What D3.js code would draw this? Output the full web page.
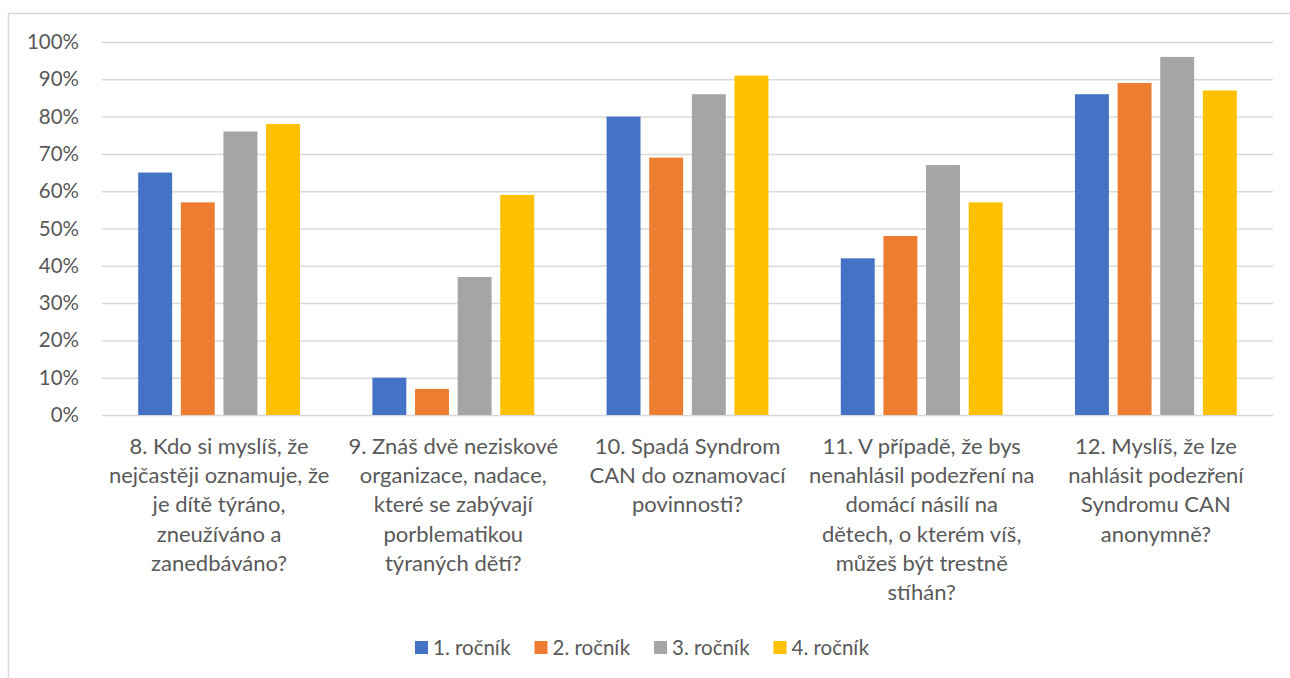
<!DOCTYPE html>
<html>
  <head>
    <meta charset=utf-8>
    <title>Syndrom CAN</title>
    <style>
      body{ margin:0; background:#fff; }
      text{ font-family: Lato, "Open Sans", sans-serif; fill:#595959; }
    </style>
  </head>
  <body>
    <script src="https://d3js.org/d3.v7.min.js"></script>
    <script>
      var categories = [
        ["8. Kdo si myslíš, že", "nejčastěji oznamuje, že", "je dítě týráno,", "zneužíváno a", "zanedbáváno?"],
        ["9. Znáš dvě neziskové", "organizace, nadace,", "které se zabývají", "porblematikou", "týraných dětí?"],
        ["10. Spadá Syndrom", "CAN do oznamovací", "povinnosti?"],
        ["11. V případě, že bys", "nenahlásil podezření na", "domácí násilí na", "dětech, o kterém víš,", "můžeš být trestně", "stíhán?"],
        ["12. Myslíš, že lze", "nahlásit podezření", "Syndromu CAN", "anonymně?"]
      ];
      var seriesNames = ["1. ročník", "2. ročník", "3. ročník", "4. ročník"];
      var colors = ["#4472c4", "#ed7d31", "#a5a5a5", "#ffc000"];
      var rocnik1 = [0.65, 0.10, 0.80, 0.42, 0.86];
      var rocnik2 = [0.57, 0.07, 0.69, 0.48, 0.89];
      var rocnik3 = [0.76, 0.37, 0.86, 0.67, 0.96];
      var rocnik4 = [0.78, 0.59, 0.91, 0.57, 0.87];
      var yTicks = [0, 0.1, 0.2, 0.3, 0.4, 0.5, 0.6, 0.7, 0.8, 0.9, 1.0];

      var series = [rocnik1, rocnik2, rocnik3, rocnik4];
      var width = 1290, height = 678;
      var plot = {left: 102, right: 1273, top: 42, bottom: 415};

      var svg = d3.select("body").append("svg")
        .attr("width", width)
        .attr("height", height);

      // chart border (right and bottom fall outside the picture)
      svg.append("rect")
        .attr("x", 8.5).attr("y", 13.5)
        .attr("width", width + 20).attr("height", height + 20)
        .style("fill", "none")
        .style("stroke", "#d9d9d9")
        .style("stroke-width", 1.5);

      var x0 = d3.scaleBand()
        .domain(d3.range(categories.length))
        .range([plot.left, plot.right])
        .paddingInner(0.309)
        .paddingOuter(0.1545);

      var x1 = d3.scaleBand()
        .domain(d3.range(series.length))
        .range([0, x0.bandwidth()])
        .paddingInner(0.204)
        .paddingOuter(0);

      var y = d3.scaleLinear().domain([0, 1]).range([plot.bottom, plot.top]);

      // gridlines
      var yAxis = d3.axisLeft(y)
        .tickValues(yTicks)
        .tickFormat(d3.format(".0%"))
        .tickSize(-(plot.right - plot.left))
        .tickPadding(23);
      var gy = svg.append("g")
        .attr("transform", "translate(" + plot.left + ",0)")
        .call(yAxis);
      gy.select(".domain").remove();
      gy.selectAll("line").style("stroke", "#d9d9d9").style("stroke-width", 1.5);
      gy.selectAll("text")
        .style("font-size", "20.5px")
        .style("fill", "#595959")
        .style("font-family", "Lato, sans-serif");

      // bars
      series.forEach(function(vals, s) {
        svg.append("g").selectAll("rect")
          .data(vals).enter().append("rect")
            .attr("x", function(d, i) { return x0(i) + x1(s); })
            .attr("y", function(d) { return y(d); })
            .attr("width", x1.bandwidth())
            .attr("height", function(d) { return y(0) - y(d); })
            .style("fill", colors[s]);
      });

      // category labels
      var lineH = 29.2;
      svg.append("g").selectAll("text")
        .data(categories).enter().append("text")
          .attr("text-anchor", "middle")
          .style("font-size", "22px")
          .each(function(lines, i) {
            var t = d3.select(this);
            lines.forEach(function(l, k) {
              t.append("tspan")
                .attr("x", x0(i) + x0.bandwidth() / 2)
                .attr("y", 454 + k * lineH)
                .text(l);
            });
          });

      // legend
      var legendX = d3.scaleLinear().domain([0, 1]).range([415, 534.5]);
      var leg = svg.append("g").selectAll("g")
        .data(seriesNames).enter().append("g")
          .attr("transform", function(d, i) { return "translate(" + legendX(i) + ",641)"; });
      leg.append("rect")
        .attr("width", 13).attr("height", 13)
        .style("fill", function(d, i) { return colors[i]; });
      leg.append("text")
        .attr("x", 18).attr("y", 14)
        .style("font-size", "20.5px")
        .text(function(d) { return d; });
    </script>
  </body>
</html>
